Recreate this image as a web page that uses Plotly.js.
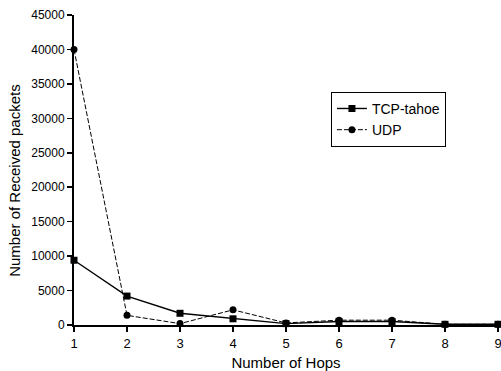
<!DOCTYPE html>
<html><head><meta charset="utf-8">
<script src="https://cdn.plot.ly/plotly-3.0.1.min.js"></script>
<style>html,body{margin:0;padding:0;background:#fff}#c{width:501px;height:371px}</style>
</head><body><div id="c"></div>
<script>
const hops = [1, 2, 3, 4, 5, 6, 7, 8, 9];
const tcpTahoe = [9400, 4200, 1700, 900, 200, 500, 500, 100, 100];
const udp = [40000, 1400, 200, 2200, 300, 700, 700, 100, 100];
const yTicks = [0, 5000, 10000, 15000, 20000, 25000, 30000, 35000, 40000, 45000];

const data = [
  {x: hops, y: tcpTahoe, name: 'TCP-tahoe', type: 'scatter', mode: 'lines+markers',
   line: {color: '#000', width: 1.4}, marker: {symbol: 'square', size: 7, color: '#000'}, cliponaxis: false},
  {x: hops, y: udp, name: 'UDP', type: 'scatter', mode: 'lines+markers',
   line: {color: '#000', width: 1, dash: '5px,2px'}, marker: {symbol: 'circle', size: 7, color: '#000'}, cliponaxis: false}
];
const layout = {
  width: 501, height: 371,
  margin: {l: 74, r: 3, t: 15, b: 46},
  paper_bgcolor: '#fff', plot_bgcolor: '#fff',
  font: {family: 'Liberation Sans, Arial, sans-serif', color: '#000', size: 12},
  showlegend: true,
  legend: {x: 0.606, y: 0.752, xanchor: 'left', yanchor: 'top', bordercolor: '#000', borderwidth: 1,
           bgcolor: '#fff', font: {size: 14}, tracegroupgap: 0, itemwidth: 30},
  xaxis: {range: [1, 9], tickvals: hops, ticktext: hops.map(String), showgrid: false, zeroline: false,
          showline: true, linecolor: '#000', linewidth: 2, ticks: 'outside', ticklen: 5, tickwidth: 1.5,
          tickcolor: '#000', tickfont: {size: 13}, ticklabeloverflow: 'allow',
          title: {text: 'Number of Hops', font: {size: 15}, standoff: 8}},
  yaxis: {range: [0, 45000], tickvals: yTicks, ticktext: yTicks.map(String), showgrid: false, zeroline: false,
          showline: true, linecolor: '#000', linewidth: 2, ticks: 'outside', ticklen: 5, tickwidth: 1.5,
          tickcolor: '#000', tickfont: {size: 12}, ticklabeloverflow: 'allow'},
  annotations: [{text: 'Number of Received packets', textangle: -90, showarrow: false,
                 xref: 'paper', yref: 'paper', x: -0.14, y: 0.467, xanchor: 'center', yanchor: 'middle',
                 font: {size: 15}}]
};
Plotly.newPlot('c', data, layout, {displayModeBar: false, staticPlot: true});
</script></body></html>
